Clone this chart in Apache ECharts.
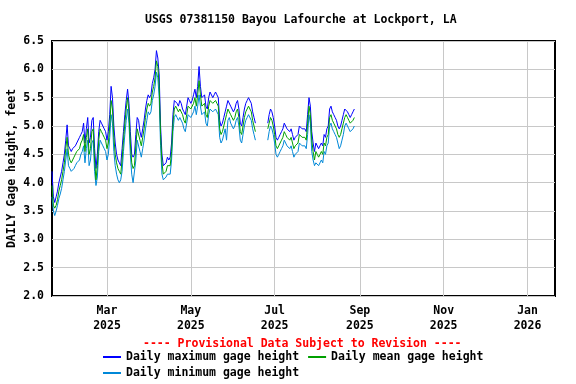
<!DOCTYPE html>
<html><head><meta charset="utf-8">
<script src="https://cdn.jsdelivr.net/npm/echarts@6/dist/echarts.min.js"></script>
<style>html,body{margin:0;padding:0;background:#fff}#c{width:576px;height:384px}</style>
</head><body><div id="c"></div>
<script>
const titleText = 'USGS 07381150 Bayou Lafourche at Lockport, LA';
const noteText = '---- Provisional Data Subject to Revision ----';
const yAxisName = 'DAILY Gage height, feet';
const seriesNames = ['Daily maximum gage height', 'Daily mean gage height', 'Daily minimum gage height'];
const startDay = [2025, 1, 20];
const axisStart = [2025, 1, 20];
const axisEnd = [2026, 1, 21];
const tickDates = [[2025,3,1],[2025,5,1],[2025,7,1],[2025,9,1],[2025,11,1],[2026,1,1]];
const tickLabels = ['Mar\n2025','May\n2025','Jul\n2025','Sep\n2025','Nov\n2025','Jan\n2026'];
const N = null;
const maxVals = [
4.2,3.75,3.65,3.75,3.85,4.0,4.1,4.2,4.35,4.5,
4.75,5.02,4.65,4.6,4.55,4.6,4.62,4.65,4.7,4.72,
4.8,4.85,4.9,5.05,4.7,4.95,5.15,4.7,4.8,5.1,
5.15,4.6,4.25,4.5,4.9,5.1,5.05,5.0,4.95,4.9,
4.75,4.9,5.2,5.7,5.5,5.0,4.7,4.5,4.4,4.35,
4.3,4.6,4.9,5.2,5.45,5.65,5.4,4.9,4.5,4.45,
4.5,4.85,5.15,5.1,4.9,4.8,4.95,5.1,5.3,5.45,
5.55,5.5,5.55,5.75,5.85,6.0,6.33,6.2,5.9,5.0,
4.5,4.3,4.3,4.35,4.45,4.4,4.45,4.7,5.2,5.45,
5.45,5.4,5.35,5.45,5.4,5.3,5.25,5.2,5.35,5.5,
5.45,5.4,5.45,5.55,5.65,5.5,5.7,6.05,5.7,5.5,
5.5,5.55,5.35,5.3,5.5,5.6,5.6,5.5,5.55,5.6,
5.55,5.5,5.1,5.0,5.05,5.15,5.25,5.35,5.45,5.45,
5.35,5.3,5.25,5.3,5.4,5.45,5.3,5.05,5.0,5.15,
5.3,5.4,5.45,5.5,5.5,5.4,5.25,5.15,5.05,N,
N,N,N,N,N,N,N,5.05,5.2,5.3,
5.25,5.15,5.0,4.8,4.75,4.8,4.85,4.9,4.95,5.05,
5.0,4.95,4.95,4.9,4.95,4.85,4.75,4.8,4.8,4.85,
5.0,5.0,4.95,4.95,4.95,4.9,5.2,5.5,5.35,4.9,
4.7,4.55,4.7,4.65,4.6,4.65,4.7,4.65,4.85,4.8,
4.95,5.0,5.3,5.35,5.25,5.2,5.15,5.1,5.0,4.95,
5.0,5.1,5.2,5.3,5.3,5.25,5.2,5.15,5.2,5.25,
5.3];
const meanVals = [
3.95,3.6,3.55,3.6,3.7,3.85,3.95,4.05,4.2,4.35,
4.6,4.8,4.5,4.4,4.35,4.4,4.45,4.5,4.55,4.55,
4.6,4.7,4.75,4.85,4.55,4.8,4.95,4.5,4.6,4.9,
4.95,4.4,4.05,4.3,4.75,4.95,4.9,4.85,4.8,4.75,
4.6,4.7,5.0,5.45,5.3,4.8,4.5,4.35,4.25,4.2,
4.15,4.4,4.75,5.05,5.3,5.5,5.25,4.7,4.35,4.25,
4.3,4.65,4.95,4.95,4.75,4.65,4.8,4.95,5.15,5.3,
5.4,5.35,5.4,5.6,5.7,5.85,6.15,6.05,5.7,4.85,
4.35,4.15,4.15,4.2,4.3,4.3,4.3,4.55,5.05,5.3,
5.35,5.3,5.25,5.3,5.3,5.2,5.1,5.05,5.2,5.35,
5.35,5.3,5.3,5.4,5.5,5.35,5.55,5.8,5.55,5.35,
5.35,5.4,5.2,5.15,5.35,5.45,5.45,5.4,5.4,5.45,
5.4,5.35,4.95,4.85,4.9,5.0,5.1,5.2,5.3,5.3,
5.2,5.15,5.1,5.15,5.25,5.3,5.15,4.9,4.85,5.0,
5.15,5.25,5.3,5.35,5.35,5.25,5.1,5.0,4.9,N,
N,N,N,N,N,N,N,4.95,5.05,5.15,
5.1,5.0,4.85,4.65,4.6,4.65,4.7,4.75,4.8,4.9,
4.85,4.8,4.8,4.75,4.8,4.7,4.6,4.65,4.65,4.7,
4.85,4.85,4.8,4.8,4.8,4.75,5.05,5.35,5.2,4.75,
4.55,4.4,4.55,4.5,4.45,4.5,4.55,4.5,4.7,4.65,
4.8,4.85,5.15,5.2,5.1,5.05,5.0,4.95,4.85,4.8,
4.85,4.95,5.05,5.15,5.2,5.15,5.1,5.05,5.05,5.1,
5.15];
const minVals = [
3.75,3.5,3.42,3.5,3.6,3.72,3.8,3.9,4.05,4.2,
4.4,4.6,4.3,4.25,4.2,4.22,4.25,4.3,4.35,4.35,
4.4,4.5,4.55,4.65,4.35,4.6,4.75,4.3,4.4,4.7,
4.75,4.2,3.95,4.1,4.55,4.75,4.7,4.65,4.6,4.55,
4.4,4.5,4.8,5.2,5.05,4.55,4.3,4.15,4.05,4.0,
4.05,4.2,4.55,4.85,5.1,5.3,5.05,4.5,4.15,4.0,
3.97,4.4,4.75,4.75,4.55,4.45,4.6,4.75,4.95,5.1,
5.25,5.2,5.25,5.45,5.55,5.7,5.95,5.85,5.5,4.65,
4.15,4.05,4.05,4.1,4.15,4.15,4.15,4.4,4.9,5.15,
5.2,5.15,5.1,5.15,5.15,5.05,4.95,4.9,5.05,5.2,
5.2,5.15,5.15,5.25,5.35,5.2,5.35,5.55,5.35,5.2,
5.2,5.25,5.05,5.0,5.2,5.3,5.3,5.25,5.25,5.3,
5.25,5.2,4.8,4.7,4.75,4.85,4.95,4.75,5.1,5.15,
5.05,5.0,4.95,5.0,5.1,5.15,5.0,4.75,4.7,4.85,
5.0,5.1,5.15,5.2,5.2,5.1,4.95,4.85,4.75,N,
N,N,N,N,N,N,N,4.75,4.9,5.0,
4.95,4.85,4.7,4.5,4.45,4.5,4.55,4.6,4.65,4.75,
4.7,4.65,4.65,4.6,4.65,4.55,4.45,4.5,4.5,4.55,
4.7,4.7,4.65,4.65,4.65,4.6,4.85,5.2,5.05,4.55,
4.4,4.3,4.35,4.35,4.3,4.35,4.4,4.35,4.55,4.5,
4.65,4.7,5.0,5.05,4.95,4.9,4.85,4.8,4.7,4.6,
4.65,4.75,4.85,5.0,5.05,5.0,4.95,4.9,4.9,4.95,
5.0];

function ts(a){ return Date.UTC(a[0], a[1]-1, a[2]); }
function toSeries(vals){
  return vals.map((v,i)=>[Date.UTC(startDay[0], startDay[1]-1, startDay[2]+i), v]);
}
const tickTs = tickDates.map(ts);
const FONT = 'DejaVu Sans Mono';
const chart = echarts.init(document.getElementById('c'), null, {renderer:'canvas'});
const txt = {fontFamily: FONT, fontWeight: 'bold', fontSize: 11.5, color: '#000'};
chart.setOption({
  animation: false,
  backgroundColor: '#fff',
  grid: {left: 52, right: 21, top: 41, bottom: 88, show: true, borderColor: '#000', borderWidth: 2, backgroundColor: 'transparent', containLabel: false, outerBoundsMode: 'none'},
  graphic: [
    {type:'text', left: 303 - 158, top: 14, style: {text: titleText, fill:'#000', font: 'bold 11.5px "DejaVu Sans Mono"'}},
    {type:'text', left: 303 - 160, top: 338, style: {text: noteText, fill:'#ff0000', font: 'bold 11.5px "DejaVu Sans Mono"'}}
  ],
  legend: [
    {data: [seriesNames[0], seriesNames[1]], left: 103, top: 351, orient: 'horizontal', itemWidth: 18, itemHeight: 2, itemGap: 9, icon: 'rect', textStyle: txt, padding: 0},
    {data: [seriesNames[2]], left: 103, top: 367, itemWidth: 18, itemHeight: 2, icon: 'rect', textStyle: txt, padding: 0}
  ],
  xAxis: {
    type: 'value', min: ts(axisStart), max: ts(axisEnd),
    axisLine: {show: false},
    axisTick: {show: false, customValues: tickTs},
    splitLine: {show: true, lineStyle: {color: '#c8c8c8', width: 1}},
    axisLabel: {customValues: tickTs, margin: 8, lineHeight: 15, ...txt,
      formatter: function(v){ const k = tickTs.indexOf(v); return k >= 0 ? tickLabels[k] : ''; }}
  },
  yAxis: {
    type: 'value', min: 2, max: 6.5, interval: 0.5,
    name: yAxisName, nameLocation: 'middle', nameGap: 34, nameRotate: 90, nameMoveOverlap: false,
    nameTextStyle: txt,
    axisLine: {show: false}, axisTick: {show: false},
    splitLine: {show: true, lineStyle: {color: '#c8c8c8', width: 1}},
    axisLabel: {margin: 8, ...txt, formatter: v => v.toFixed(1)}
  },
  series: [
    {name: seriesNames[0], type: 'line', data: toSeries(maxVals), showSymbol: false, connectNulls: false, lineStyle: {width: 1, color: '#0000ff'}, itemStyle: {color: '#0000ff'}, z: 3},
    {name: seriesNames[1], type: 'line', data: toSeries(meanVals), showSymbol: false, connectNulls: false, lineStyle: {width: 1, color: '#00a000'}, itemStyle: {color: '#00a000'}, z: 4},
    {name: seriesNames[2], type: 'line', data: toSeries(minVals), showSymbol: false, connectNulls: false, lineStyle: {width: 1, color: '#0088d8'}, itemStyle: {color: '#0088d8'}, z: 2}
  ]
});
</script></body></html>
